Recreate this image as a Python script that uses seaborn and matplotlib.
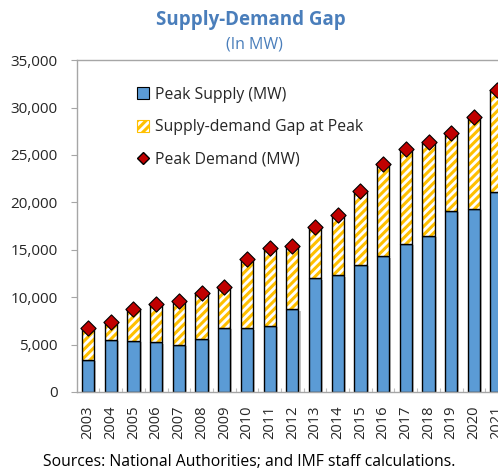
import numpy as np
import matplotlib
matplotlib.use('Agg')
import matplotlib.pyplot as plt
import matplotlib.ticker as mticker
import matplotlib.patheffects as pe
from matplotlib.patches import Patch
from matplotlib.lines import Line2D
import seaborn as sns

# ---------------------------------------------
# Data (MW)
# ---------------------------------------------
years = [str(y) for y in range(2003, 2022)]
peak_supply = [3400, 5500, 5400, 5250, 5000, 5600, 6800, 6700, 7000, 8700,
               12000, 12300, 13400, 14300, 15600, 16450, 19100, 19350, 21100]
peak_demand = [6700, 7350, 8800, 9250, 9600, 10450, 11100, 14000, 15200, 15400,
               17450, 18700, 21200, 24000, 25600, 26400, 27350, 29000, 31850]
gap = [d - s for d, s in zip(peak_demand, peak_supply)]

sns.set_theme(style='white')
plt.rcParams['font.family'] = ['Open Sans', 'DejaVu Sans']
plt.rcParams['hatch.linewidth'] = 2.2

blue = '#5B9BD5'
yellow = '#FFC000'
red = '#C00000'

fig = plt.figure(figsize=(4.98, 4.70), dpi=100)
ax = fig.add_axes([0.155, 0.166, 1.02 - 0.155, 0.706])

w = 0.54
# peak supply
sns.barplot(x=years, y=peak_supply, color=blue, width=w, saturation=1,
            edgecolor='black', linewidth=1.0, ax=ax)
# light grey shadow on the supply bars
for p in list(ax.patches):
    p.set_path_effects([pe.SimplePatchShadow(offset=(1.5, -1), shadow_rgbFace='#9A9A9A', alpha=0.6),
                        pe.Normal()])
# gap, hatched fill
sns.barplot(x=years, y=gap, bottom=peak_supply, color='white', width=w,
            saturation=1, edgecolor=yellow, linewidth=0, hatch='////', ax=ax)
# gap, outline
sns.barplot(x=years, y=gap, bottom=peak_supply, color='black', fill=False,
            width=w, linewidth=1.0, ax=ax)
# peak demand markers
sns.scatterplot(x=years, y=peak_demand, marker='D', s=60, color=red,
                edgecolor='black', linewidth=0.8, zorder=5, ax=ax)

ax.set_xlim(-0.48, 18.5)
ax.set_ylim(0, 35000)
ax.yaxis.set_major_locator(mticker.MultipleLocator(5000))
ax.yaxis.set_major_formatter(mticker.FuncFormatter(lambda v, p: f'{int(v):,}'))
ax.tick_params(axis='y', left=True, length=4, width=0.8, color='#A6A6A6',
               labelsize=11, pad=10)
ax.tick_params(axis='x', bottom=False, labelsize=10.5, rotation=90, pad=4)
ax.set_xticks(np.arange(len(years)) + 0.5, minor=True)
ax.tick_params(axis='x', which='minor', bottom=True, direction='in',
               length=3, width=0.8, color='#BFBFBF')
for s in ['left', 'bottom', 'top', 'right']:
    ax.spines[s].set_color('#A6A6A6')
    ax.spines[s].set_linewidth(1.0)
ax.set_xlabel('')
ax.set_ylabel('')

handles = [
    Patch(facecolor=blue, edgecolor='black', linewidth=0.8),
    Patch(facecolor='white', edgecolor=yellow, hatch='////', linewidth=0.8),
    Line2D([], [], marker='D', color='none', markerfacecolor=red,
           markeredgecolor='black', markersize=6),
]
labels = ['Peak Supply (MW)', 'Supply-demand Gap at Peak', 'Peak Demand (MW)']
ax.legend(handles, labels, loc='upper left', bbox_to_anchor=(0.105, 0.962),
          frameon=False, fontsize=11.3, handlelength=0.8, handleheight=0.8,
          handletextpad=0.4, labelspacing=1.05)

fig.text(0.504, 0.958, 'Supply-Demand Gap', ha='center', va='center',
         fontsize=13.5, fontweight='bold', color='#4A7EBB')
fig.text(0.51, 0.905, '(In MW)', ha='center', va='center',
         fontsize=11.5, color='#4A7EBB')
fig.text(0.5, 0.017, 'Sources: National Authorities; and IMF staff calculations.',
         ha='center', va='center', fontsize=11.3, color='black')

fig.savefig('out.png', dpi=100)
